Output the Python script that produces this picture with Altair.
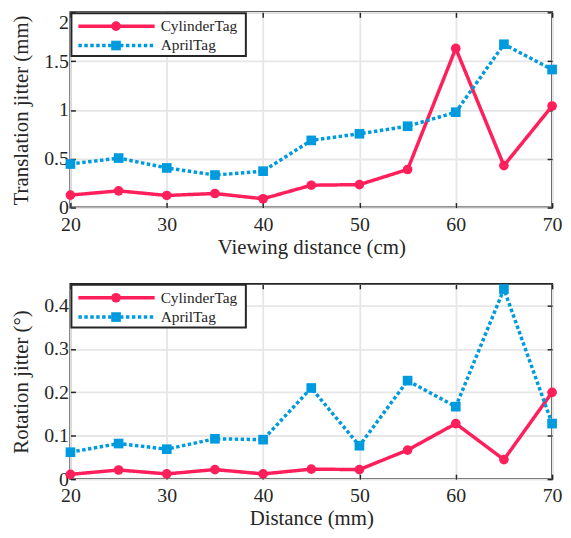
import altair as alt
import pandas as pd

# ---------------- data ----------------
distance = [20, 25, 30, 35, 40, 45, 50, 55, 60, 65, 70]
x_ticks = [20, 30, 40, 50, 60, 70]
series_names = ["CylinderTag", "AprilTag"]
series_colors = ["#FF1F5B", "#009ADE"]
series_shapes = ["circle", "square"]

trans_cylinder = [0.128, 0.171, 0.124, 0.144, 0.090, 0.229, 0.235, 0.390, 1.630, 0.430, 1.040]
trans_april = [0.446, 0.507, 0.406, 0.333, 0.373, 0.688, 0.756, 0.833, 0.977, 1.673, 1.414]
trans_ticks = [0, 0.5, 1, 1.5, 2]

rot_cylinder = [0.011, 0.021, 0.012, 0.022, 0.012, 0.023, 0.022, 0.067, 0.128, 0.045, 0.200]
rot_april = [0.062, 0.082, 0.069, 0.093, 0.091, 0.210, 0.077, 0.227, 0.167, 0.438, 0.128]
rot_ticks = [0, 0.1, 0.2, 0.3, 0.4]

FONT = "Liberation Serif"
INK = "#262626"
W, H = 486, 197


def panel(cyl, apr, ytitle, xtitle, ymax, yticks):
    n = len(distance)
    df = pd.DataFrame({
        "x": distance * 2,
        "y": cyl + apr,
        "series": [series_names[0]] * n + [series_names[1]] * n,
    })
    xs = alt.Scale(domain=[20, 70], nice=False, zero=False)
    ys = alt.Scale(domain=[0, ymax], nice=False, zero=False)
    color = alt.Color("series:N", scale=alt.Scale(domain=series_names, range=series_colors), legend=None)

    x_bottom = alt.X("x:Q", scale=xs, title=xtitle,
                     axis=alt.Axis(orient="bottom", values=x_ticks, offset=-5, tickSize=5,
                                   domain=False, grid=False, labelPadding=7, labelFlush=False,
                                   titlePadding=2))
    y_left = alt.Y("y:Q", scale=ys, title=ytitle,
                   axis=alt.Axis(orient="left", values=yticks, format=".1~f", offset=-5, tickSize=5,
                                 domain=False, grid=False, labelPadding=2, titlePadding=12,
                                 labelBaseline={"condition": {"test": f"datum.value >= {ymax}",
                                                              "value": "top"},
                                                "value": "middle"}))
    x_top = alt.X("x:Q", scale=xs, title=None,
                  axis=alt.Axis(orient="top", values=x_ticks, offset=-5, tickSize=5,
                                domain=False, grid=True, labels=False, minExtent=0, maxExtent=0))
    y_right = alt.Y("y:Q", scale=ys, title=None,
                    axis=alt.Axis(orient="right", values=yticks, offset=-5, tickSize=5,
                                  domain=False, grid=True, labels=False, minExtent=0, maxExtent=0))

    base = alt.Chart(df)
    lines = base.mark_line(strokeWidth=3.5).encode(
        x=x_bottom, y=y_left, color=color,
        strokeDash=alt.StrokeDash("series:N",
                                  scale=alt.Scale(domain=series_names, range=[[1, 0], [3.5, 2.5]]),
                                  legend=None),
    )
    points = base.mark_point(filled=True, size=95, opacity=1).encode(
        x=x_top, y=y_right, color=color,
        shape=alt.Shape("series:N", scale=alt.Scale(domain=series_names, range=series_shapes),
                        legend=None),
    )

    # legend box (top-left, inside the plot)
    one = alt.Chart(pd.DataFrame({"k": [0]}))
    layers = [lines, points]
    layers.append(one.mark_rect(fill="white", stroke=INK, strokeWidth=2).encode(
        x=alt.value(1), x2=alt.value(177), y=alt.value(1), y2=alt.value(44)))
    dashes = [None, [3.5, 2.5]]
    for i, name in enumerate(series_names):
        yy = 14 + 19.5 * i
        rule_kw = dict(color=series_colors[i], strokeWidth=3.5)
        if dashes[i] is not None:
            rule_kw["strokeDash"] = dashes[i]
        layers.append(one.mark_rule(**rule_kw).encode(
            x=alt.value(8), x2=alt.value(85), y=alt.value(yy)))
        layers.append(one.mark_point(filled=True, shape=series_shapes[i], size=95,
                                     color=series_colors[i], opacity=1).encode(
            x=alt.value(46), y=alt.value(yy)))
        layers.append(one.mark_text(text=name, align="left", baseline="middle", font=FONT,
                                    fontSize=15.5, color=INK).encode(
            x=alt.value(91), y=alt.value(yy)))

    return alt.layer(*layers).properties(width=W, height=H)


top = panel(trans_cylinder, trans_april, "Translation jitter (mm)", "Viewing distance (cm)", 2, trans_ticks)
bottom = panel(rot_cylinder, rot_april, "Rotation jitter (°)", "Distance (mm)", 0.45, rot_ticks)

chart = alt.vconcat(top, bottom, spacing=77).properties(
    bounds="flush",
    background="white",
    padding={"left": 2, "top": 0, "right": 0, "bottom": 0},
).configure_view(
    stroke=INK, strokeWidth=2,
).configure_axis(
    labelFont=FONT, labelFontSize=20, labelColor=INK,
    titleFont=FONT, titleFontSize=21, titleFontWeight="normal", titleColor=INK,
    tickColor=INK, tickWidth=1.5,
    gridColor="#e6e6e6", gridWidth=1.8,
)

chart.save("out.html", embed_options={"renderer": "svg", "actions": False})
